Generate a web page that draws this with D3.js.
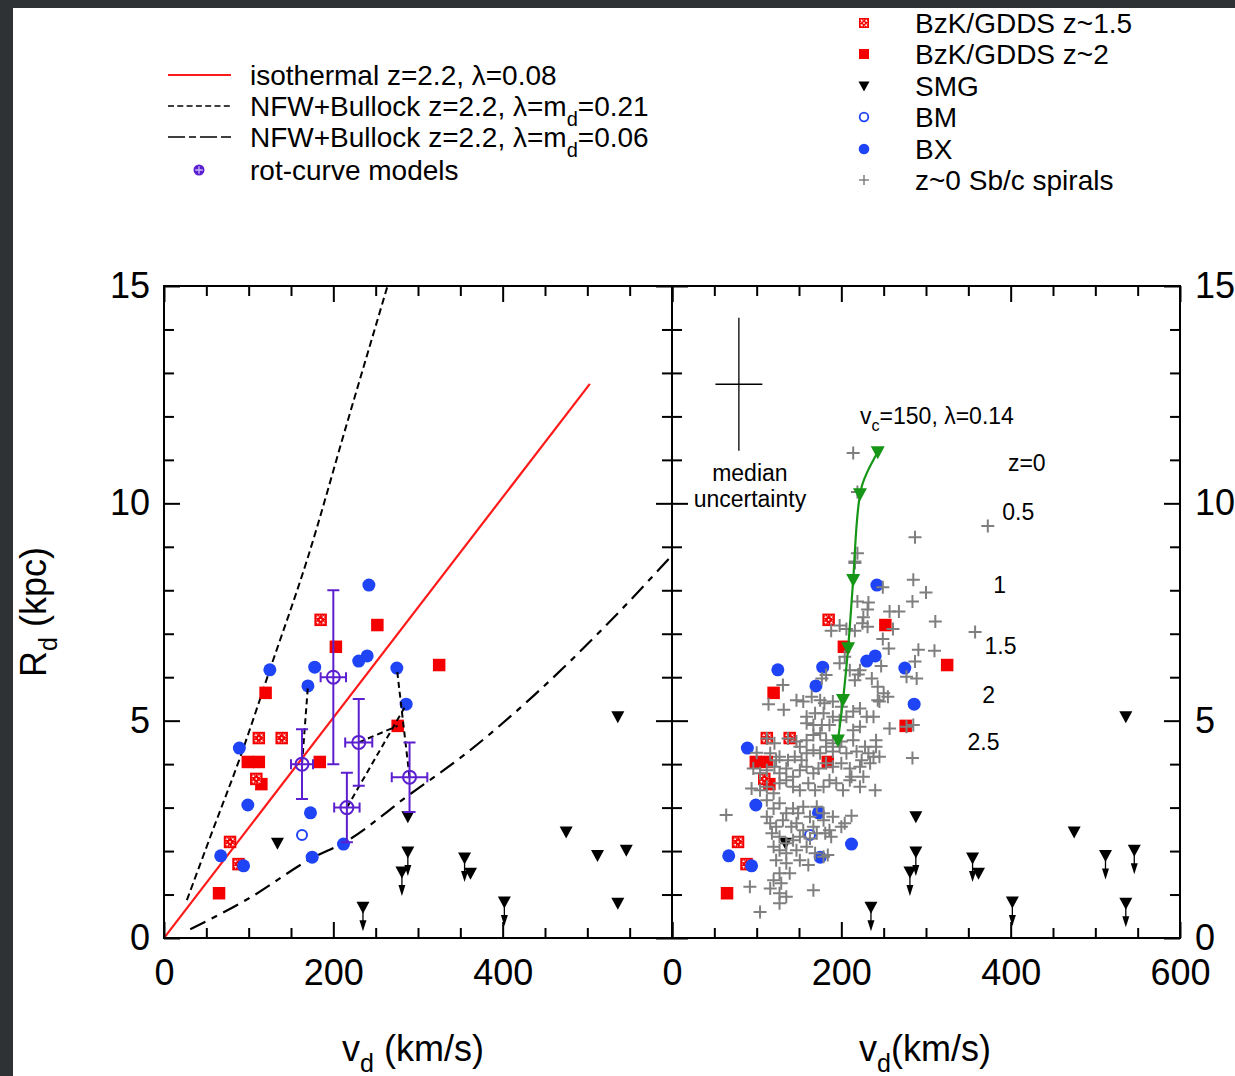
<!DOCTYPE html>
<html><head><meta charset="utf-8">
<script src="https://cdn.jsdelivr.net/npm/d3@7"></script>
<style>
body{margin:0;background:#2e3234;}
svg{display:block;font-family:"Liberation Sans",Arial,Helvetica,sans-serif;}
</style>
</head><body>
<svg id="c" width="1235" height="1076"></svg>
<script>
// ---------------- DATA ----------------
const bzkZ15 = [[185,7.32],[112,4.6],[139,4.6],[109,3.66],[78,2.21],[88,1.70]];
const bzkZ2  = [[120,5.64],[99,4.05],[112,4.05],[115,3.54],[65,1.03],[184,4.05],[203,6.7],[252,7.2],[325,6.28],[276,4.88]];
const bxPts  = [[125,6.17],[89,4.37],[99,3.06],[67,1.89],[94,1.66],[170,5.8],[178,6.23],[173,2.88],[175,1.86],[242,8.12],[230,6.37],[240,6.49],[275,6.21],[286,5.38],[212,2.16]];
const bmPts  = [[163,2.37]];
// SMG: v, R, upper-limit flag
const smgV   = [134,288,288,281,235,355,362,402,475,512,546,536,536];
const smgR   = [2.18,2.79,1.98,1.52,0.71,1.84,1.49,0.83,2.44,1.90,2.02,0.80,5.09];
const smgLim = [0,0,1,1,1,1,0,1,0,1,1,1,0];
// rot-curve models: v, R, v error, R error
const rotV  = [163,200,230,216,290];
const rotR  = [4.0,6.0,4.5,3.0,3.7];
const rotVe = [13,15,16,15,21];
const rotRe = [0.8,2.0,1.0,0.8,0.8];
// connectors from rot-curve models to measured points: [rot index, v, R]
const rotLinks = [[0,170,5.8],[3,284,5.3],[2,276,4.88],[4,275,6.21]];
// model curves (left panel)
const isoLine  = [[0,0],[503,12.75]];
const nfw021   = [[27,0.87],[58,2.5],[90,4.16],[125,6.17],[169,8.7],[217,11.9],[264,15.0]];
const nfw006   = [[31,0.2],[101,0.92],[175,1.84],[214,2.21],[290,3.3],[357,4.25],[438,5.6],[520,7.15],[600,8.8]];
// v_c=150, lambda=0.14 track (right panel), z = 0 ... 2.5
const trackV = [243,222,214,208,202,196];
const trackR = [11.18,10.21,8.24,6.67,5.48,4.55];
const trackZ = ["z=0","0.5","1","1.5","2","2.5"];
// z~0 Sb/c spirals
const spirals = [
[216,8.66],[285,8.24],[300,7.95],[249,8.07],[284,7.74],[219,7.74],[232,7.72],[231,7.56],[257,7.51],[268,7.51],
[226,7.38],[225,7.24],[231,7.16],[311,7.28],[198,7.19],[188,7.07],[206,7.11],[216,7.07],[261,7.11],[249,6.88],
[256,6.66],[291,6.63],[310,6.61],[287,6.36],[204,6.47],[198,6.32],[210,6.16],[247,6.26],[222,6.16],[220,6.06],
[216,5.93],[277,6.01],[289,5.97],[177,5.97],[182,6.05],[131,5.82],[236,5.97],[243,5.78],[250,5.63],[255,5.55],
[243,5.47],[114,5.38],[132,5.25],[147,5.47],[155,5.44],[165,5.55],[175,5.47],[180,5.40],[190,5.44],[200,5.32],
[222,5.28],[214,5.21],[230,5.09],[238,5.09],[245,5.44],[257,4.82],[277,4.86],[285,4.90],[159,5.09],[169,5.17],
[179,5.17],[159,4.94],[167,4.90],[177,4.90],[190,5.09],[198,5.01],[206,5.09],[186,4.90],[214,4.78],[222,4.86],
[112,4.59],[121,4.48],[137,4.59],[147,4.52],[151,4.40],[159,4.55],[167,4.67],[175,4.71],[182,4.55],[190,4.48],
[200,4.52],[214,4.55],[228,4.40],[241,4.55],[241,4.40],[238,4.17],[245,4.17],[100,4.26],[116,4.25],[123,4.09],
[127,4.17],[137,4.09],[145,4.17],[153,4.09],[159,4.25],[167,4.32],[175,4.25],[182,4.40],[190,4.29],[198,4.40],
[206,4.25],[218,4.29],[224,4.09],[232,4.25],[96,3.90],[104,3.79],[112,3.86],[121,3.94],[127,3.79],[135,3.90],
[143,3.71],[151,3.86],[159,3.94],[167,3.79],[173,3.90],[182,4.02],[190,3.94],[200,4.02],[210,3.90],[222,3.94],
[234,4.02],[226,3.71],[212,3.71],[94,3.44],[104,3.40],[112,3.48],[120,3.33],[127,3.56],[135,3.63],[143,3.48],
[151,3.40],[161,3.56],[169,3.40],[179,3.48],[186,3.63],[194,3.56],[202,3.40],[210,3.63],[222,3.48],[240,3.40],
[64,2.83],[112,3.17],[120,2.98],[127,3.10],[135,2.87],[143,2.98],[149,2.87],[155,3.02],[163,2.79],[171,3.02],
[179,2.87],[190,2.79],[200,2.56],[204,2.64],[212,2.81],[112,2.79],[116,2.64],[123,2.56],[131,2.71],[141,2.56],
[147,2.64],[155,2.48],[167,2.56],[179,2.71],[186,2.48],[118,2.41],[127,2.33],[135,2.18],[143,2.25],[151,2.33],
[163,2.29],[171,2.41],[181,2.41],[188,2.33],[120,2.10],[127,2.02],[135,1.95],[147,2.02],[159,2.10],[169,1.95],
[123,1.79],[135,1.72],[151,1.79],[161,1.68],[179,1.87],[184,1.91],[127,1.49],[139,1.49],[120,1.33],[129,1.26],
[116,1.14],[127,1.03],[135,0.95],[167,1.10],[92,1.18],[104,0.60],[127,0.80],
[214,11.16],[219,10.26],[373,9.48],[287,9.22],[219,8.85],[216,8.63],[358,7.04],[284,4.14]
];
// median uncertainty: v, R, half-widths
const medUnc = {v:79, R:12.74, dv:27.7, dR:1.53};
// tick labels
const xTicksMajor = [0,200,400,600];
const xLabelsLeft = [0,200,400];
const xLabelsRight = [0,200,400,600];
const yTicksMajor = [0,5,10,15];

// ---------------- STYLE ----------------
const RED="#f50000", BLUE="#1f44f5", PURPLE="#5b1fcf", GRAY="#7f7f7f", GREEN="#169616";
const FONT='"Liberation Sans",Arial,Helvetica,sans-serif';

const svg = d3.select('#c');
svg.append('rect').attr('width',1235).attr('height',1076).attr('fill','#2e3234');
svg.append('rect').attr('x',13).attr('y',8).attr('width',1222).attr('height',1068).attr('fill','#fff');

const xL = d3.scaleLinear().domain([0,600]).range([164,672]);
const xR = d3.scaleLinear().domain([0,600]).range([672,1180]);
const y  = d3.scaleLinear().domain([0,15]).range([938,286]);

const defs = svg.append('defs');
defs.append('clipPath').attr('id','clipL').append('rect')
  .attr('x',164).attr('y',286).attr('width',508).attr('height',652);
defs.append('clipPath').attr('id','clipR').append('rect')
  .attr('x',672).attr('y',286).attr('width',508).attr('height',652);

// ------------- marker helpers -------------
function redSq(g,cx,cy,s){
  g.append('rect').attr('x',cx-s/2).attr('y',cy-s/2).attr('width',s).attr('height',s).attr('fill',RED);
}
function redSqX(g,cx,cy,s){
  redSq(g,cx,cy,s);
  const d=s*0.22;
  [[-d,-d],[d,-d],[-d,d],[d,d],[0,0]].forEach(([a,b])=>{
    g.append('rect').attr('x',cx+a-0.8).attr('y',cy+b-0.8).attr('width',1.6).attr('height',1.6).attr('fill','#fff');
  });
  g.append('rect').attr('x',cx-s*0.32).attr('y',cy-s*0.32).attr('width',s*0.64).attr('height',s*0.64)
    .attr('fill','none').attr('stroke','#fff').attr('stroke-width',0.7).attr('stroke-dasharray','1,1.5');
}
function triDown(g,cx,cy,w,h,fill){
  g.append('path').attr('d',`M${cx-w/2},${cy-h*0.45}L${cx+w/2},${cy-h*0.45}L${cx},${cy+h*0.55}Z`).attr('fill',fill);
}
function plusMark(g,cx,cy,a,color,sw){
  g.append('path').attr('d',`M${cx-a},${cy}H${cx+a}M${cx},${cy-a}V${cy+a}`)
    .attr('stroke',color).attr('stroke-width',sw).attr('fill','none');
}

// ------------- axes -------------
function panelAxes(x, bottomLabels, leftLabels, rightLabels){
  const minX = d3.range(0,601,50).filter(v=>!xTicksMajor.includes(v));
  const minY = d3.range(0,16,1).filter(v=>!yTicksMajor.includes(v));
  const [x0,x1] = x.range();
  const groups = [];
  const add = (tr, ax) => { const g = svg.append('g').attr('transform',tr).call(ax); groups.push(g); return g; };
  add(`translate(0,${y(0)})`, d3.axisBottom(x).tickValues(minX).tickSize(-10).tickFormat(''));
  add(`translate(0,${y(0)})`, d3.axisBottom(x).tickValues(xTicksMajor).tickSize(-16).tickPadding(21)
      .tickFormat(d=>bottomLabels.includes(d)?String(d):''));
  add(`translate(0,${y(15)})`, d3.axisTop(x).tickValues(minX).tickSize(-10).tickFormat(''));
  add(`translate(0,${y(15)})`, d3.axisTop(x).tickValues(xTicksMajor).tickSize(-16).tickFormat(''));
  add(`translate(${x0},0)`, d3.axisLeft(y).tickValues(minY).tickSize(-10).tickFormat(''));
  add(`translate(${x0},0)`, d3.axisLeft(y).tickValues(yTicksMajor).tickSize(-16).tickPadding(14)
      .tickFormat(d=>leftLabels?String(d):''));
  add(`translate(${x1},0)`, d3.axisRight(y).tickValues(minY).tickSize(-10).tickFormat(''));
  add(`translate(${x1},0)`, d3.axisRight(y).tickValues(yTicksMajor).tickSize(-16).tickPadding(15)
      .tickFormat(d=>rightLabels?String(d):''));
  groups.forEach(g=>{
    g.attr('font-family',FONT).attr('font-size',36);
    g.select('.domain').remove();
    g.selectAll('.tick line').attr('stroke','#000').attr('stroke-width',2);
    g.selectAll('.tick text').attr('fill','#000');
  });
  svg.append('rect').attr('x',x0).attr('y',y(15)).attr('width',x1-x0).attr('height',y(0)-y(15))
    .attr('fill','none').attr('stroke','#000').attr('stroke-width',2);
}

// ------------- data markers (shared) -------------
function drawPoints(g, x, withSpirals, arrowMaxV){
  bzkZ2.forEach(d=>redSq(g,x(d[0]),y(d[1]),12.5));
  bzkZ15.forEach(d=>redSqX(g,x(d[0]),y(d[1]),12.5));
  bxPts.forEach(d=>g.append('circle').attr('cx',x(d[0])).attr('cy',y(d[1])).attr('r',6.5).attr('fill',BLUE));
  bmPts.forEach(d=>g.append('circle').attr('cx',x(d[0])).attr('cy',y(d[1])).attr('r',5).attr('fill','none')
     .attr('stroke',BLUE).attr('stroke-width',2));
  smgV.forEach((v,i)=>{
    const cx=x(v), cy=y(smgR[i]);
    triDown(g,cx,cy,13,12,'#000');
    if(smgLim[i] && v<arrowMaxV){
      g.append('line').attr('x1',cx).attr('x2',cx).attr('y1',cy).attr('y2',cy+16).attr('stroke','#000').attr('stroke-width',1.3);
      g.append('path').attr('d',`M${cx-3.5},${cy+13}L${cx+3.5},${cy+13}L${cx},${cy+24}Z`).attr('fill','#000');
    }
  });
  if(withSpirals){
    spirals.forEach(d=>plusMark(g,x(d[0]),y(d[1]),6.5,GRAY,2));
  }
}

// ===================== LEFT PANEL =====================
const gL = svg.append('g').attr('clip-path','url(#clipL)');
const lineL = d3.line().x(d=>xL(d[0])).y(d=>y(d[1]));
const curveL = d3.line().x(d=>xL(d[0])).y(d=>y(d[1])).curve(d3.curveMonotoneX);
gL.append('path').attr('d',lineL(isoLine)).attr('stroke','#ff1a1a').attr('stroke-width',2.2).attr('fill','none');
gL.append('path').attr('d',curveL(nfw021)).attr('stroke','#000').attr('stroke-width',2).attr('fill','none').attr('stroke-dasharray','7,4');
gL.append('path').attr('d',curveL(nfw006)).attr('stroke','#000').attr('stroke-width',2.2).attr('fill','none').attr('stroke-dasharray','17,7,6,7');
drawPoints(gL, xL, false, 450);
// connectors
rotLinks.forEach(([i,v,R])=>{
  gL.append('line').attr('x1',xL(rotV[i])).attr('y1',y(rotR[i])).attr('x2',xL(v)).attr('y2',y(R))
    .attr('stroke','#000').attr('stroke-width',2).attr('stroke-dasharray','6,4');
});
// rot-curve models
rotV.forEach((v,i)=>{
  const cx=xL(v), cy=y(rotR[i]);
  const xa=xL(v-rotVe[i]), xb=xL(v+rotVe[i]), ya=y(rotR[i]+rotRe[i]), yb=y(rotR[i]-rotRe[i]);
  const p=`M${xa},${cy}H${xb}M${cx},${ya}V${yb}M${xa},${cy-5}V${cy+5}M${xb},${cy-5}V${cy+5}M${cx-6},${ya}H${cx+6}M${cx-6},${yb}H${cx+6}`;
  gL.append('path').attr('d',p).attr('stroke',PURPLE).attr('stroke-width',2).attr('fill','none');
  gL.append('circle').attr('cx',cx).attr('cy',cy).attr('r',6.5).attr('fill','none').attr('stroke',PURPLE).attr('stroke-width',2);
});
panelAxes(xL, xLabelsLeft, true, false);

// ===================== RIGHT PANEL =====================
const gR = svg.append('g').attr('clip-path','url(#clipR)');
drawPoints(gR, xR, true, 9999);
// track
const trk = trackV.map((v,i)=>[v,trackR[i]]);
gR.append('path').attr('d',d3.line().x(d=>xR(d[0])).y(d=>y(d[1])).curve(d3.curveMonotoneY)(trk))
  .attr('stroke',GREEN).attr('stroke-width',2.2).attr('fill','none');
trk.forEach(d=>triDown(gR,xR(d[0]),y(d[1]),14,13,GREEN));
// median uncertainty
gR.append('path').attr('d',`M${xR(medUnc.v-medUnc.dv)},${y(medUnc.R)}H${xR(medUnc.v+medUnc.dv)}M${xR(medUnc.v)},${y(medUnc.R+medUnc.dR)}V${y(medUnc.R-medUnc.dR)}`)
  .attr('stroke','#000').attr('stroke-width',1.3).attr('fill','none');
const ann = svg.append('g').attr('font-family',FONT).attr('font-size',23).attr('text-anchor','middle').attr('fill','#000');
ann.append('text').attr('x',xR(92)).attr('y',y(10.51)).text('median');
ann.append('text').attr('x',xR(92)).attr('y',y(9.91)).text('uncertainty');
const vc = ann.append('text').attr('x',xR(313)).attr('y',y(11.82));
vc.append('tspan').text('v');
vc.append('tspan').attr('font-size',16).attr('dy',7).text('c');
vc.append('tspan').attr('dy',-7).text('=150, λ=0.14');
const zPos = [[419,10.75],[409,9.62],[387,7.94],[388,6.53],[374,5.41],[368,4.32]];
trackZ.forEach((t,i)=>ann.append('text').attr('x',xR(zPos[i][0])).attr('y',y(zPos[i][1])).text(t));
panelAxes(xR, xLabelsRight, false, true);

// ===================== AXIS TITLES =====================
const tt = svg.append('g').attr('font-family',FONT).attr('font-size',36).attr('fill','#000');
const t1 = tt.append('text').attr('x',413).attr('y',1061).attr('text-anchor','middle');
t1.append('tspan').text('v'); t1.append('tspan').attr('font-size',25).attr('dy',11).text('d');
t1.append('tspan').attr('dy',-11).text(' (km/s)');
const t2 = tt.append('text').attr('x',925).attr('y',1061).attr('text-anchor','middle');
t2.append('tspan').text('v'); t2.append('tspan').attr('font-size',25).attr('dy',11).text('d');
t2.append('tspan').attr('dy',-11).text('(km/s)');
const t3 = tt.append('text').attr('transform','translate(46,612) rotate(-90)').attr('text-anchor','middle');
t3.append('tspan').text('R'); t3.append('tspan').attr('font-size',25).attr('dy',11).text('d');
t3.append('tspan').attr('dy',-11).text(' (kpc)');

// ===================== LEGENDS =====================
const lg = svg.append('g').attr('font-family',FONT).attr('font-size',28).attr('fill','#000');
const legL = [
  {y:75, type:'iso', parts:[['isothermal z=2.2, λ=0.08']]},
  {y:106, type:'nfw1', parts:[['NFW+Bullock z=2.2, λ=m'],['d','sub'],['=0.21']]},
  {y:137, type:'nfw2', parts:[['NFW+Bullock z=2.2, λ=m'],['d','sub'],['=0.06']]},
  {y:170, type:'rot', parts:[['rot-curve models']]}
];
legL.forEach(e=>{
  if(e.type==='iso') lg.append('line').attr('x1',168).attr('x2',231).attr('y1',e.y).attr('y2',e.y).attr('stroke','#ff1a1a').attr('stroke-width',2);
  if(e.type==='nfw1') lg.append('line').attr('x1',168).attr('x2',231).attr('y1',e.y).attr('y2',e.y).attr('stroke','#000').attr('stroke-width',1.6).attr('stroke-dasharray','6,3.3');
  if(e.type==='nfw2') lg.append('line').attr('x1',168).attr('x2',231).attr('y1',e.y).attr('y2',e.y).attr('stroke','#000').attr('stroke-width',1.6).attr('stroke-dasharray','17,4,7,4,17,4');
  if(e.type==='rot'){
    lg.append('circle').attr('cx',199).attr('cy',e.y).attr('r',5.5).attr('fill',PURPLE);
    plusMark(lg,199,e.y,3.8,'#c9b8ff',1.3);
  }
  const t = lg.append('text').attr('x',250).attr('y',e.y+10);
  let shifted=false;
  e.parts.forEach(p=>{
    if(p[1]==='sub'){ t.append('tspan').attr('font-size',20).attr('dy',10).text(p[0]); shifted=true; }
    else { const ts=t.append('tspan').text(p[0]); if(shifted){ts.attr('dy',-10); shifted=false;} }
  });
});
const legR = [
  {y:23, type:'sqx', label:'BzK/GDDS z~1.5'},
  {y:54, type:'sq', label:'BzK/GDDS z~2'},
  {y:86, type:'tri', label:'SMG'},
  {y:117, type:'bm', label:'BM'},
  {y:149, type:'bx', label:'BX'},
  {y:180, type:'plus', label:'z~0 Sb/c spirals'}
];
legR.forEach(e=>{
  const cx=864;
  if(e.type==='sqx') redSqX(lg,cx,e.y,10);
  if(e.type==='sq') redSq(lg,cx,e.y,10);
  if(e.type==='tri') triDown(lg,cx,e.y,11,10,'#000');
  if(e.type==='bm') lg.append('circle').attr('cx',cx).attr('cy',e.y).attr('r',4.3).attr('fill','none').attr('stroke',BLUE).attr('stroke-width',1.8);
  if(e.type==='bx') lg.append('circle').attr('cx',cx).attr('cy',e.y).attr('r',5.3).attr('fill',BLUE);
  if(e.type==='plus') plusMark(lg,cx,e.y,5,GRAY,1.5);
  lg.append('text').attr('x',915).attr('y',e.y+10).text(e.label);
});
</script>
</body></html>
